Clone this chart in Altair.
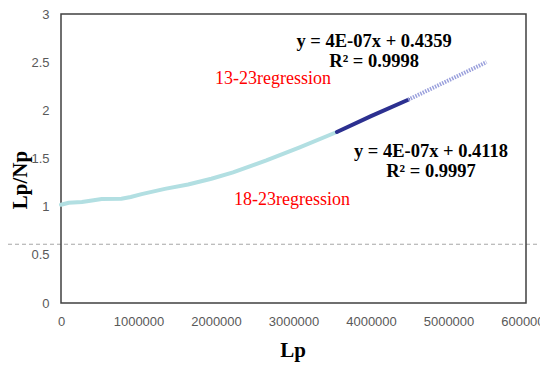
import altair as alt
import pandas as pd

# light cyan series (Lp, Lp/Np)
light_x = [0, 100000, 270000, 400000, 525000, 780000, 900000, 1040000, 1340000,
           1640000, 1940000, 2220000, 2650000, 3080000, 3560000]
light_y = [1.02, 1.04, 1.048, 1.065, 1.08, 1.083, 1.10, 1.13, 1.185,
           1.23, 1.29, 1.355, 1.48, 1.615, 1.775]
# dark blue series
dark_x = [3560000, 4000000, 4480000]
dark_y = [1.775, 1.94, 2.11]
# dotted extension (regression)
dot_x = [4480000, 5490000]
dot_y = [2.11, 2.50]

ref_y = [0.61]

ann_text = ["y = 4E-07x + 0.4359", "R² = 0.9998", "y = 4E-07x + 0.4118", "R² = 0.9997"]
ann_x = [4040000, 4040000, 4774000, 4774000]
ann_y = [2.662, 2.455, 1.513, 1.307]

red_text = ["13-23regression", "18-23regression"]
red_x = [1987000, 2232000]
red_y = [2.276, 1.017]

x_ticks = [0, 1000000, 2000000, 3000000, 4000000, 5000000, 6000000]
y_ticks = [0, 0.5, 1, 1.5, 2, 2.5, 3]

W, H = 465, 289
PL, PT, PR, PB = 53, 6, 14, 59

xscale = alt.Scale(domain=[0, 6000000], nice=False)
yscale = alt.Scale(domain=[0, 3], nice=False)

label_font = "Liberation Sans"
serif = "Liberation Serif"

xaxis = alt.Axis(values=x_ticks, format="d", title=None, ticks=False, domain=False, grid=False,
                 labelFont=label_font, labelFontSize=13, labelColor="#595959", labelPadding=12,
                 labelOverlap=False, labelFlush=False)
yaxis = alt.Axis(values=y_ticks, format=".1~f", title=None, ticks=False, domain=False, grid=False,
                 labelFont=label_font, labelFontSize=13, labelColor="#595959", labelPadding=12)

light_df = pd.DataFrame({"x": light_x, "y": light_y})
dark_df = pd.DataFrame({"x": dark_x, "y": dark_y})
dot_df = pd.DataFrame({"x": dot_x, "y": dot_y})

frame = alt.Chart(pd.DataFrame({"k": [0]})).mark_rect(
    fill=None, stroke="#404040", strokeWidth=1.5, fillOpacity=0).encode(
    x=alt.value(0), x2=alt.value(W), y=alt.value(0), y2=alt.value(H))

light = alt.Chart(light_df).mark_line(color="#b2dfe2", strokeWidth=4, strokeCap="round").encode(
    x=alt.X("x:Q", scale=xscale, axis=xaxis),
    y=alt.Y("y:Q", scale=yscale, axis=yaxis),
)
dark = alt.Chart(dark_df).mark_line(color="#2c3090", strokeWidth=4, strokeCap="round").encode(
    x=alt.X("x:Q", scale=xscale), y=alt.Y("y:Q", scale=yscale))
dots = alt.Chart(dot_df).mark_line(color="#9aa0dc", strokeWidth=4, strokeDash=[1.5, 1.2]).encode(
    x=alt.X("x:Q", scale=xscale), y=alt.Y("y:Q", scale=yscale))

rule = alt.Chart(pd.DataFrame({"y": ref_y})).mark_rule(
    color="#a6a6a6", strokeDash=[4, 3], strokeWidth=1, clip=False).encode(
    y=alt.Y("y:Q", scale=yscale), x=alt.value(-PL), x2=alt.value(W + PR))

ann = alt.Chart(pd.DataFrame({"t": ann_text, "x": ann_x, "y": ann_y})).mark_text(
    font=serif, fontSize=18.5, fontWeight="bold", color="black", align="center",
    baseline="alphabetic").encode(
    x=alt.X("x:Q", scale=xscale), y=alt.Y("y:Q", scale=yscale), text="t:N")

red = alt.Chart(pd.DataFrame({"t": red_text, "x": red_x, "y": red_y})).mark_text(
    font=serif, fontSize=18, color="#ff0000", align="left", baseline="alphabetic").encode(
    x=alt.X("x:Q", scale=xscale), y=alt.Y("y:Q", scale=yscale), text="t:N")

ytitle = alt.Chart(pd.DataFrame({"t": ["Lp/Np"]})).mark_text(
    font=serif, fontSize=21, fontWeight="bold", color="black", angle=270,
    align="center", baseline="middle").encode(
    x=alt.value(-40), y=alt.value(166), text="t:N")
xtitle = alt.Chart(pd.DataFrame({"t": ["Lp"]})).mark_text(
    font=serif, fontSize=21, fontWeight="bold", color="black",
    align="center", baseline="alphabetic").encode(
    x=alt.value(232), y=alt.value(343), text="t:N")

chart = alt.layer(rule, frame, light, dark, dots, ann, red, ytitle, xtitle).properties(
    width=W, height=H,
    autosize=alt.AutoSizeParams(type="none"),
    padding={"left": PL, "top": PT, "right": PR, "bottom": PB},
).configure(background="white").configure_view(stroke=None)

chart.save("out.html", embed_options={"renderer": "svg", "actions": False})
